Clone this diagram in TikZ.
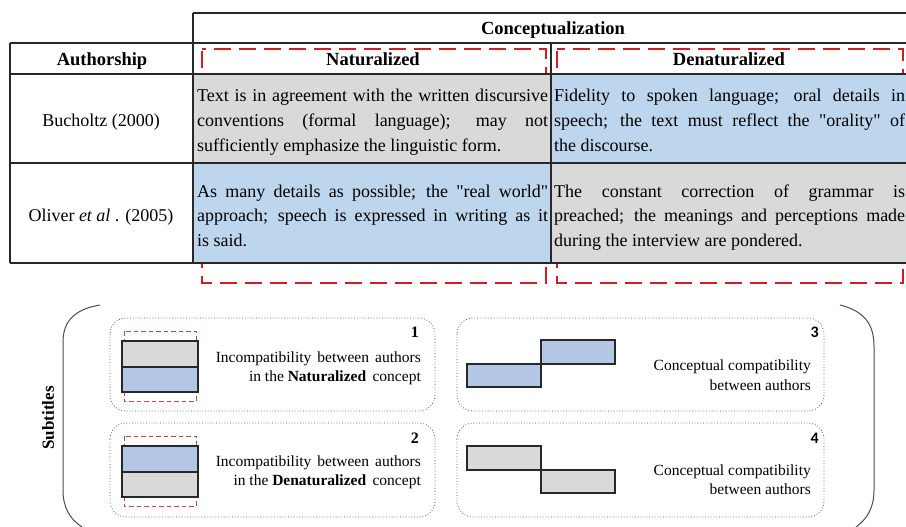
\documentclass[tikz,border=0pt]{standalone}
\usepackage{fontspec}
\setmainfont{Liberation Serif}
\newfontfamily\numfont{Carlito}
\definecolor{cellgrey}{RGB}{217,217,217}
\definecolor{cellblue}{RGB}{190,214,237}
\definecolor{legblue}{RGB}{180,199,231}
\definecolor{bracketred}{RGB}{206,32,36}
\definecolor{legred}{RGB}{196,72,72}
\definecolor{rule}{RGB}{40,40,40}
\newcommand{\jl}[1]{\makebox[351pt][s]{#1}}
\newcommand{\lj}[1]{\makebox[205pt][s]{#1}}
\newcommand{\dq}{\textquotedbl}
\begin{document}
\begin{tikzpicture}[x=1pt,y=-1pt,
  tabline/.style={draw=rule,line width=1.6pt},
  redbracket/.style={draw=bracketred,line width=2.4pt,dash pattern=on 17pt off 8pt,dash phase=-2pt},
  legbox/.style={draw=black!65,line width=0.8pt,dotted,rounded corners=16pt},
  legrect/.style={draw=rule,line width=1.1pt},
  legdash/.style={draw=legred,line width=0.8pt,dash pattern=on 4.5pt off 3pt},
  cell/.style={inner sep=0pt,anchor=base west,font=\fontsize{18}{24}\selectfont},
  head/.style={inner sep=0pt,anchor=base,font=\fontsize{18.5}{22}\selectfont\bfseries},
  auth/.style={inner sep=0pt,anchor=base,font=\fontsize{18}{22}\selectfont},
  legtxt/.style={inner sep=0pt,anchor=base east,font=\fontsize{15.5}{18}\selectfont},
  num/.style={inner sep=0pt,anchor=base east,font=\fontsize{16}{18}\selectfont\bfseries}]
\useasboundingbox (0,0) rectangle (906,527);
% red dashed brackets behind the table
\draw[redbracket] (202,49) rectangle (546,283);
\draw[redbracket] (557,49) rectangle (903,283);
% cell fills
\fill[cellgrey] (193,74) rectangle (551,163);
\fill[cellblue] (551,74) rectangle (906,163);
\fill[cellblue] (193,163) rectangle (551,263);
\fill[cellgrey] (551,163) rectangle (906,263);
% table rules
\draw[tabline] (193,13) -- (906,13);
\draw[tabline] (10,43) -- (906,43);
\draw[tabline] (10,74) -- (906,74);
\draw[tabline] (10,163) -- (906,163);
\draw[tabline] (10,263) -- (906,263);
\draw[tabline] (10,43) -- (10,263);
\draw[tabline] (193,13) -- (193,263);
\draw[tabline] (551,43) -- (551,263);
% headers
\node[head] (conc) at (553,35) {Conceptualization};
\node[head] (authh) at (102,66) {Authorship};
\node[head] (nat) at (373,66) {Naturalized};
\node[head] (denat) at (729,66) {Denaturalized};
\node[auth] (buch) at (101,126) {Bucholtz (2000)};
\node[auth] (oliv) at (101,221) {Oliver \textit{et al} . (2005)};
% cell texts
\node[cell] (c11a) at (197,102) {\jl{Text is in agreement with the written discursive}};
\node[cell] (c11b) at (197,126) {\jl{conventions (formal language); may not}};
\node[cell] (c11c) at (197,151) {sufficiently emphasize the linguistic form.};
\node[cell] (c12a) at (554,102) {\jl{Fidelity to spoken language; oral details in}};
\node[cell] (c12b) at (554,126) {\jl{speech; the text must reflect the \dq orality\dq{} of}};
\node[cell] (c12c) at (554,151) {the discourse.};
\node[cell] (c21a) at (197,197) {\jl{As many details as possible; the \dq real world\dq}};
\node[cell] (c21b) at (197,221) {\jl{approach; speech is expressed in writing as it}};
\node[cell] (c21c) at (197,246) {is said.};
\node[cell] (c22a) at (554,197) {\jl{The constant correction of grammar is}};
\node[cell] (c22b) at (554,221) {\jl{preached; the meanings and perceptions made}};
\node[cell] (c22c) at (554,246) {during the interview are pondered.};
% big parenthesis brackets
\draw[draw=black!70,line width=1pt] (100,305) .. controls (76,309) and (63,320) .. (63,342) -- (63,490) .. controls (63,508) and (70,519) .. (82,527);
\draw[draw=black!70,line width=1pt] (840,305) .. controls (864,311) and (874,324) .. (874,346) -- (874,490) .. controls (874,508) and (867,519) .. (856,527);
\node[inner sep=0pt,rotate=90,font=\fontsize{17}{20}\selectfont\bfseries] (subt) at (48,418) {Subtitles};
% legend boxes
\draw[legbox] (110,318) rectangle (435,411);
\draw[legbox] (110,423) rectangle (435,517);
\draw[legbox] (457,318) rectangle (824,411);
\draw[legbox] (457,423) rectangle (824,517);
% box 1
\draw[legdash] (124,331) rectangle (196,401);
\filldraw[legrect,fill=cellgrey] (122,341) rectangle (198,367);
\filldraw[legrect,fill=legblue] (122,367) rectangle (198,392);
\node[num] (n1) at (419,337) {1};
\node[legtxt] (t1a) at (421,362) {\lj{Incompatibility between authors}};
\node[legtxt] (t1b) at (421,381) {in the \textbf{Naturalized}\, concept};
% box 2
\draw[legdash] (124,436) rectangle (196,506);
\filldraw[legrect,fill=legblue] (122,446) rectangle (198,472);
\filldraw[legrect,fill=cellgrey] (122,472) rectangle (198,497);
\node[num] (n2) at (419,443) {2};
\node[legtxt] (t2a) at (421,466) {\lj{Incompatibility between authors}};
\node[legtxt] (t2b) at (421,485) {in the \textbf{Denaturalized}\, concept};
% box 3
\filldraw[legrect,fill=legblue] (467,364) rectangle (541,387);
\filldraw[legrect,fill=legblue] (541,340) rectangle (615,364);
\node[num,font=\fontsize{16}{18}\selectfont\numfont\bfseries] (n3) at (819,337) {3};
\node[legtxt] (t3a) at (811,370) {Conceptual compatibility};
\node[legtxt] (t3b) at (811,390) {between authors};
% box 4
\filldraw[legrect,fill=cellgrey] (467,446) rectangle (541,470);
\filldraw[legrect,fill=cellgrey] (541,470) rectangle (615,493);
\node[num,font=\fontsize{16}{18}\selectfont\numfont\bfseries] (n4) at (819,443) {4};
\node[legtxt] (t4a) at (811,475) {Conceptual compatibility};
\node[legtxt] (t4b) at (811,494) {between authors};
\end{tikzpicture}
\end{document}
